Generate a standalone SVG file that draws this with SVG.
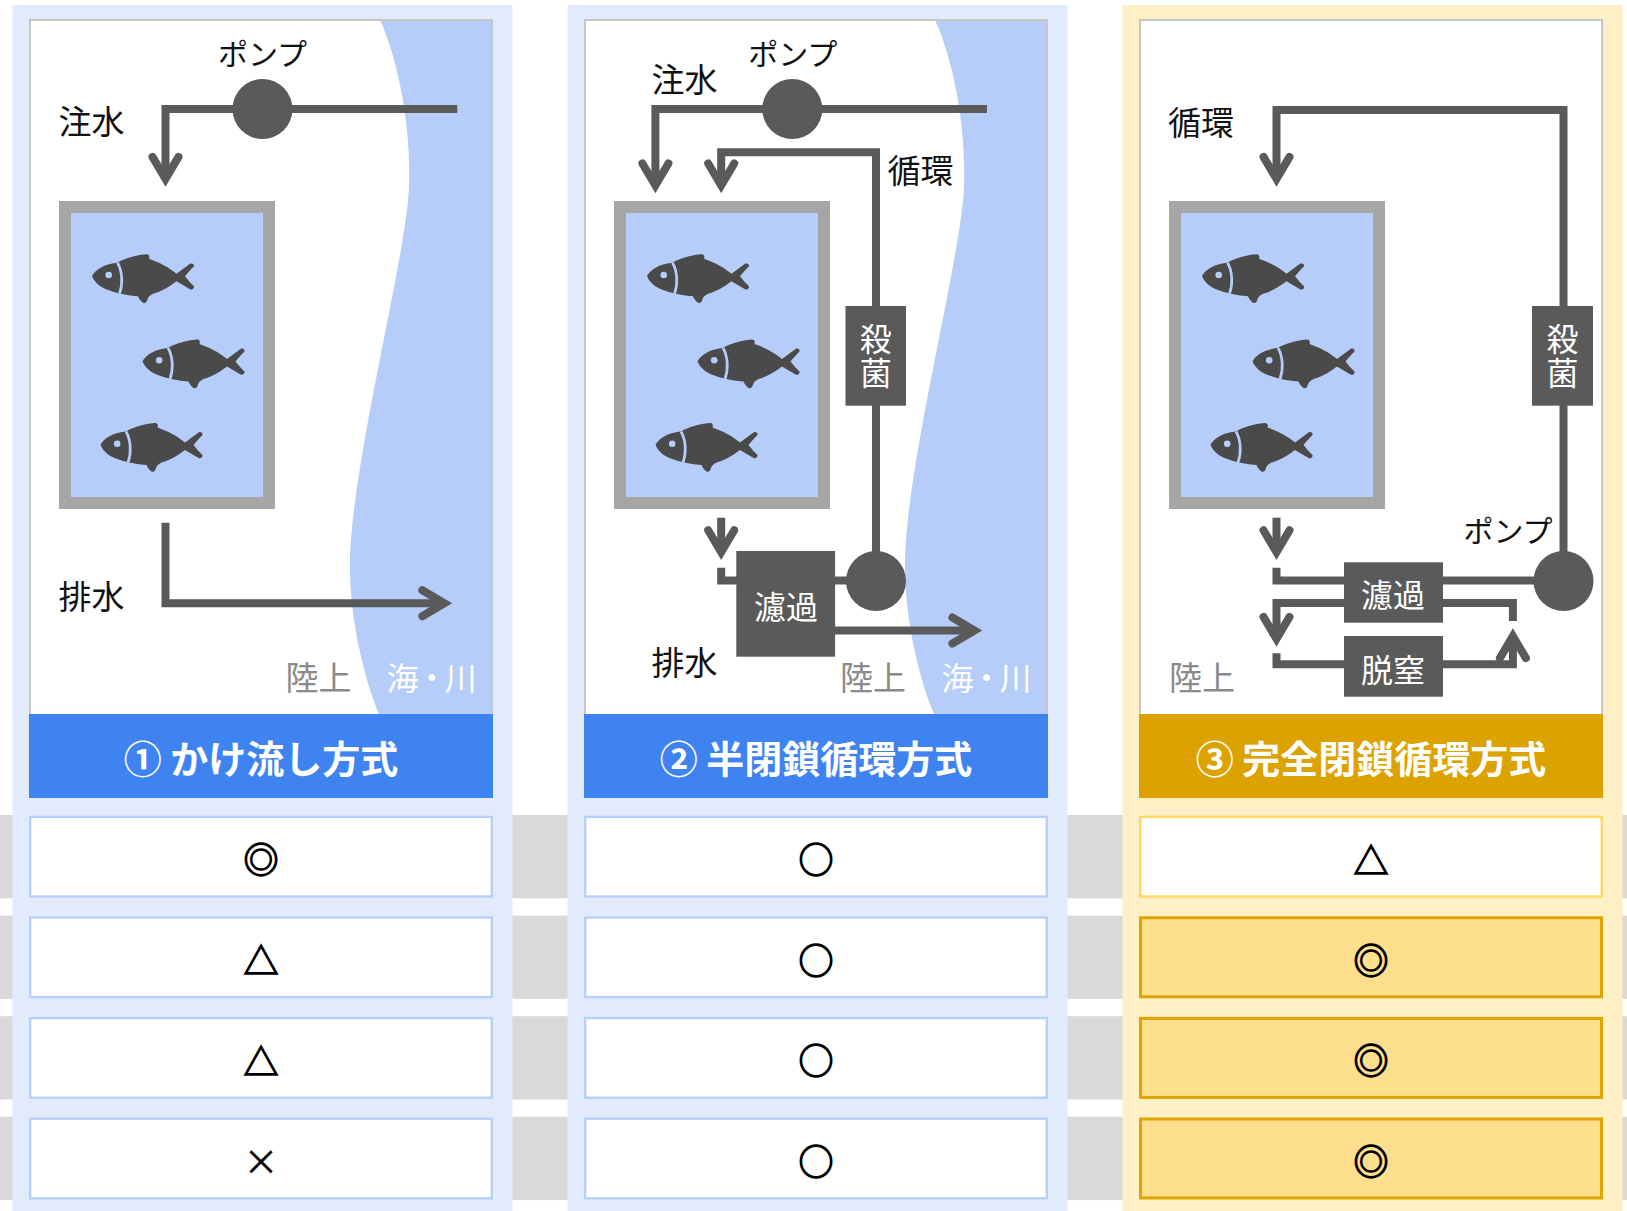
<svg xmlns="http://www.w3.org/2000/svg" xmlns:xlink="http://www.w3.org/1999/xlink" width="1627" height="1211" viewBox="0 0 1627 1211">
  <defs>
    <style>
      text { font-family: "Noto Sans CJK JP", "Noto Sans CJK SC", sans-serif; }
      .lbl { font-size: 33px; fill: #111; }
      .pump-lbl { font-size: 30px; fill: #111; text-anchor: middle; }
      .land { font-size: 33px; fill: #8a8a8a; }
      .sea { font-size: 32px; fill: #fff; letter-spacing: -3px; }
      .box-txt { font-size: 32px; fill: #fff; text-anchor: middle; }
      .box-v { font-size: 32px; fill: #fff; text-anchor: middle; writing-mode: vertical-rl; letter-spacing: 2px; }
      .title { font-size: 38px; font-weight: bold; fill: #fff; text-anchor: middle; }
      .sym { font-size: 35px; fill: #000; stroke: #000; stroke-width: 1.3; text-anchor: middle; }
      .sym-x { font-size: 35px; fill: #000; stroke: #000; stroke-width: 0.4; text-anchor: middle; }
      .pipe { fill: none; stroke: #5a5a5a; stroke-width: 8; stroke-linejoin: miter; }
      .arrow { marker-end: url(#chev); }
      .dev { fill: #5a5a5a; }
      .tank { fill: #b5cdf8; stroke: #a6a6a6; stroke-width: 12; }
      .panel { fill: #fff; }
      .panel-edge { fill: none; stroke: #c6c6c6; stroke-width: 2; }
      .water { fill: #b5cdf8; }
      .band { fill: #d9d9d9; }
      .bg-blue { fill: #e2ebfc; }
      .bg-gold { fill: #fef0c6; }
      .bar-blue { fill: #3f83f1; }
      .bar-gold { fill: #dca200; }
      .cell { fill: #fff; stroke: #b8cff9; stroke-width: 2.4; }
      .cell-soft { fill: #fff; stroke: #ffd762; stroke-width: 2.4; }
      .cell-best { fill: #fedf8d; stroke: #dea400; stroke-width: 3; }
    </style>
    <marker id="chev" markerUnits="userSpaceOnUse" orient="auto" overflow="visible" markerWidth="10" markerHeight="10" refX="0" refY="0">
      <path d="M-22,-13 L0,0 L-22,13" fill="none" stroke="#5a5a5a" stroke-width="8" stroke-linecap="round" stroke-linejoin="miter"/>
    </marker>
    <g id="fish">
      <path fill="#4a4a4a" d="M0,21.7 C4,15 12,10 25,8.5 L30,6 C38,3 46,0.5 54,0 C57,0 58,2 57,4.5 C67,8 77,13 84.5,19.5 L98,9.5 C100,8.5 102.5,9.5 102,12 C99,15 96,18 93,22 C96,26 99,29 102,32 C102.5,34.5 100,35.8 98,35 L84.5,27 C78,32 70,37 61,39.5 C58,41 56,43 55.5,45 C55,48 53,49.5 51,48.5 C49,47 47,45 46,42 C36,41.5 24,39 14,35 C7,32 2,27 0,21.7 Z"/>
      <circle cx="16.7" cy="20.7" r="3.3" fill="#b5cdf8"/>
      <path d="M25.5,8.5 C30.5,17 31,30 27.5,39.5" fill="none" stroke="#b5cdf8" stroke-width="2.7"/>
    </g>
    <path id="water" d="M380.5,21 C398,60 411,125 409,185 C408,250 352,460 350,560 C349,620 365,680 379,714 L492,714 L492,21 Z"/>
  </defs>

  <!-- rating rows running behind the three columns -->
  <g id="rows">
    <rect class="band" x="0" y="815" width="1627" height="83.3"/>
    <rect class="band" x="0" y="915.6" width="1627" height="83.3"/>
    <rect class="band" x="0" y="1016.2" width="1627" height="83.3"/>
    <rect class="band" x="0" y="1116.8" width="1627" height="83.3"/>
  </g>

  <!-- column backgrounds and scene panels -->
  <g id="col1-frame">
    <rect class="bg-blue" x="12.5" y="5" width="500" height="1206"/>
    <rect class="panel" x="30" y="20" width="462" height="696"/>
    <use href="#water" class="water"/>
    <rect class="panel-edge" x="30" y="20" width="462" height="696"/>
    <rect class="bar-blue" x="29" y="714" width="464" height="84"/>
  </g>
  <g id="col2-frame">
    <rect class="bg-blue" x="567.5" y="5" width="500" height="1206"/>
    <rect class="panel" x="585" y="20" width="462" height="696"/>
    <use href="#water" class="water" transform="translate(555,0)"/>
    <rect class="panel-edge" x="585" y="20" width="462" height="696"/>
    <rect class="bar-blue" x="584" y="714" width="464" height="84"/>
  </g>
  <g id="col3-frame">
    <rect class="bg-gold" x="1122.5" y="5" width="500" height="1206"/>
    <rect class="panel" x="1140" y="20" width="462" height="696"/>
    <rect class="panel-edge" x="1140" y="20" width="462" height="696"/>
    <rect class="bar-gold" x="1139" y="714" width="464" height="84"/>
  </g>

  <!-- pipes -->
  <g id="connectors">
    <path class="pipe arrow" d="M457.3,109 H165.5 V178.9"/>
    <path class="pipe arrow" d="M165.5,522.7 V603.3 H444.3"/>

    <path class="pipe arrow" d="M987,109 H655.4 V185.5"/>
    <path class="pipe arrow" d="M876,581 V152.2 H721.2 V185.5"/>
    <path class="pipe arrow" d="M721.2,517.7 V552.2"/>
    <path class="pipe" d="M721.2,567.7 V580.5 H740"/>
    <path class="pipe" d="M830,580.5 H860"/>
    <path class="pipe arrow" d="M830,630.5 H974.4"/>

    <path class="pipe arrow" d="M1563.5,581 V110 H1276.5 V178.9"/>
    <path class="pipe arrow" d="M1276.5,517.7 V552.2"/>
    <path class="pipe" d="M1276.5,567.7 V580.5 H1348"/>
    <path class="pipe" d="M1440,580.5 H1545"/>
    <path class="pipe arrow" d="M1348,603 H1276.5 V638.9"/>
    <path class="pipe" d="M1276.5,653.3 V664.2 H1348"/>
    <path class="pipe" d="M1440,603 H1512.9 V621"/>
    <path class="pipe arrow" d="M1440,664.2 H1512.9 V636.1"/>
  </g>

  <!-- column 1 : flow-through -->
  <g id="tank1">
    <rect class="tank" x="65" y="207" width="204" height="296"/>
    <use href="#fish" x="92" y="254.3"/>
    <use href="#fish" x="142.5" y="339.5"/>
    <use href="#fish" x="100.5" y="423"/>
  </g>
  <g id="pump1">
    <circle class="dev" cx="262.5" cy="109" r="30"/>
    <text class="pump-lbl" x="262.5" y="65">ポンプ</text>
  </g>
  <g id="labels1">
    <text class="lbl" x="58.5" y="134">注水</text>
    <text class="lbl" x="58.5" y="609">排水</text>
    <text class="land" x="285.5" y="689.7">陸上</text>
    <text class="sea" x="386.7" y="689.7">海・川</text>
    <text class="title" x="261" y="773">① かけ流し方式</text>
  </g>

  <!-- column 2 : semi-closed recirculation -->
  <g id="tank2">
    <rect class="tank" x="620" y="207" width="204" height="296"/>
    <use href="#fish" x="647" y="254.3"/>
    <use href="#fish" x="697.5" y="339.5"/>
    <use href="#fish" x="655.5" y="423"/>
  </g>
  <g id="pump2-in">
    <circle class="dev" cx="792.3" cy="109" r="30"/>
    <text class="pump-lbl" x="792.8" y="65">ポンプ</text>
  </g>
  <g id="sterilize2">
    <rect class="dev" x="845.5" y="306" width="60.5" height="99.7"/>
    <text class="box-v" x="875.7" y="356.8">殺菌</text>
  </g>
  <g id="filter2">
    <rect class="dev" x="736.3" y="551" width="98.8" height="105.7"/>
    <text class="box-txt" x="785.9" y="619">濾過</text>
  </g>
  <g id="pump2-loop">
    <circle class="dev" cx="876" cy="581" r="30"/>
  </g>
  <g id="labels2">
    <text class="lbl" x="651.5" y="92.2">注水</text>
    <text class="lbl" x="887.5" y="183">循環</text>
    <text class="lbl" x="651.5" y="674.7">排水</text>
    <text class="land" x="840" y="689.7">陸上</text>
    <text class="sea" x="941.4" y="689.7">海・川</text>
    <text class="title" x="816" y="773">② 半閉鎖循環方式</text>
  </g>

  <!-- column 3 : fully closed recirculation -->
  <g id="tank3">
    <rect class="tank" x="1175" y="207" width="204" height="296"/>
    <use href="#fish" x="1202" y="254.3"/>
    <use href="#fish" x="1252.5" y="339.5"/>
    <use href="#fish" x="1210.5" y="423"/>
  </g>
  <g id="sterilize3">
    <rect class="dev" x="1532" y="306" width="61" height="99.7"/>
    <text class="box-v" x="1562.5" y="356.8">殺菌</text>
  </g>
  <g id="pump3">
    <circle class="dev" cx="1563.5" cy="581" r="30"/>
    <text class="pump-lbl" x="1508" y="542">ポンプ</text>
  </g>
  <g id="filter3">
    <rect class="dev" x="1344" y="562.3" width="99" height="60.4"/>
    <text class="box-txt" x="1393" y="607">濾過</text>
  </g>
  <g id="denitrify3">
    <rect class="dev" x="1344" y="636" width="99" height="60.7"/>
    <text class="box-txt" x="1393" y="682">脱窒</text>
  </g>
  <g id="labels3">
    <text class="lbl" x="1168" y="134.7">循環</text>
    <text class="land" x="1169" y="689.7">陸上</text>
    <text class="title" x="1371" y="773">③ 完全閉鎖循環方式</text>
  </g>

  <!-- rating cells -->
  <g id="cells1">
    <rect class="cell" x="30.2" y="816.9" width="461.6" height="79.6"/>
    <rect class="cell" x="30.2" y="917.5" width="461.6" height="79.6"/>
    <rect class="cell" x="30.2" y="1018.1" width="461.6" height="79.6"/>
    <rect class="cell" x="30.2" y="1118.7" width="461.6" height="79.6"/>
    <text class="sym" x="261" y="873.2">◎</text>
    <text class="sym" x="261" y="974.2">△</text>
    <text class="sym" x="261" y="1074.8">△</text>
    <text class="sym-x" x="261" y="1175">×</text>
  </g>
  <g id="cells2">
    <rect class="cell" x="585.2" y="816.9" width="461.6" height="79.6"/>
    <rect class="cell" x="585.2" y="917.5" width="461.6" height="79.6"/>
    <rect class="cell" x="585.2" y="1018.1" width="461.6" height="79.6"/>
    <rect class="cell" x="585.2" y="1118.7" width="461.6" height="79.6"/>
    <text class="sym" x="816" y="873.2">○</text>
    <text class="sym" x="816" y="973.8">○</text>
    <text class="sym" x="816" y="1074.4">○</text>
    <text class="sym" x="816" y="1175">○</text>
  </g>
  <g id="cells3">
    <rect class="cell-soft" x="1140.2" y="816.9" width="461.6" height="79.6"/>
    <rect class="cell-best" x="1140.5" y="917.8" width="461" height="79"/>
    <rect class="cell-best" x="1140.5" y="1018.4" width="461" height="79"/>
    <rect class="cell-best" x="1140.5" y="1119" width="461" height="79"/>
    <text class="sym" x="1371" y="873.6">△</text>
    <text class="sym" x="1371" y="973.8">◎</text>
    <text class="sym" x="1371" y="1074.4">◎</text>
    <text class="sym" x="1371" y="1175">◎</text>
  </g>
</svg>
